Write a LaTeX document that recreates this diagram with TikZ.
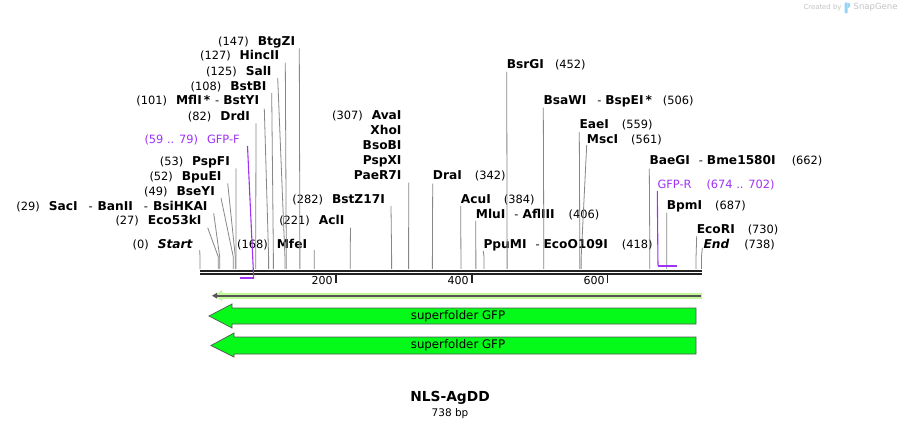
\documentclass[tikz,border=0pt]{standalone}
\usepackage{fontspec}
\setmainfont{DejaVu Sans}
\usetikzlibrary{arrows.meta}
\definecolor{primer}{RGB}{160,50,245}
\definecolor{cutline}{RGB}{135,135,135}
\definecolor{feat}{RGB}{5,250,25}
\definecolor{featline}{RGB}{85,85,85}
\definecolor{orfline}{RGB}{195,248,150}
\definecolor{bone}{RGB}{34,34,34}
\definecolor{logo}{RGB}{195,195,195}
\definecolor{logoblue}{RGB}{150,212,245}
\newcommand{\bp}[1]{200+0.6795*#1}
\newcommand{\enz}[1]{{\fontsize{12.2}{14}\selectfont\bfseries #1}}

\begin{document}
\begin{tikzpicture}[x=1pt,y=-1pt,
    lbl/.style={inner sep=0pt,text height=9pt,text depth=2.5pt,
                font=\fontsize{11.4}{13}\selectfont},
    lft/.style={lbl,anchor=east},
    rgt/.style={lbl,anchor=west},
    cut/.style={draw=cutline,line width=0.8pt},
    oligo/.style={draw=primer,line width=1.1pt},
    feature/.style={fill=feat,draw=featline,line width=0.7pt}]

  \useasboundingbox[fill=white] (0,0) rectangle (902,430);

  % sites on the backbone
  \foreach \b in {0,27,29,49,52,53,82,101,108,125,127,147,168,221,282,307,
                  342,384,406,418,452,506,559,561,662,687,730,738}
    \coordinate (s\b) at ({\bp{\b}},269);

  % labels left of their line
  \node[lft] (Start)   at (192.7,245)   {(0)\hspace{9pt}\enz{\itshape Start}};
  \node[lft] (Eco53kI) at (201.7,221.7) {(27)\hspace{9pt}\enz{Eco53kI}};
  \node[lft] (SacI)    at (207.7,207.3) {(29)\hspace{9pt}\enz{SacI}\hspace{11pt}-\hspace{5pt}\enz{BanII}\hspace{11pt}-\hspace{5pt}\enz{BsiHKAI}};
  \node[lft] (BseYI)   at (215,192)     {(49)\hspace{9pt}\enz{BseYI}};
  \node[lft] (BpuEI)   at (221.7,177.3) {(52)\hspace{9pt}\enz{BpuEI}};
  \node[lft] (PspFI)   at (230,162.3)   {(53)\hspace{9pt}\enz{PspFI}};
  \node[lft,text=primer] (GFPF) at (240,140) {(59 .. 79)\hspace{9pt}GFP-F};
  \node[lft] (DrdI)    at (250,117.3)   {(82)\hspace{9pt}\enz{DrdI}};
  \node[lft] (MflI)    at (259.3,101.7) {(101)\hspace{9pt}\enz{MflI\,*}\hspace{5pt}-\hspace{4pt}\enz{BstYI}};
  \node[lft] (BstBI)   at (266.7,87)    {(108)\hspace{9pt}\enz{BstBI}};
  \node[lft] (SalI)    at (271.7,72)    {(125)\hspace{9pt}\enz{SalI}};
  \node[lft] (HincII)  at (279.3,56.7)  {(127)\hspace{9pt}\enz{HincII}};
  \node[lft] (BtgZI)   at (295.3,42.3)  {(147)\hspace{9pt}\enz{BtgZI}};
  \node[lft] (MfeI)    at (307.3,245)   {(168)\hspace{9pt}\enz{MfeI}};
  \node[lft] (AclI)    at (344.5,221.7) {(221)\hspace{9pt}\enz{AclI}};
  \node[lft] (BstZ17I) at (385,200)     {(282)\hspace{9pt}\enz{BstZ17I}};
  \node[lft] (AvaI)    at (401.7,116.7) {(307)\hspace{9pt}\enz{AvaI}};
  \node[lft] (XhoI)    at (401.7,131.7) {\enz{XhoI}};
  \node[lft] (BsoBI)   at (401.7,146.7) {\enz{BsoBI}};
  \node[lft] (PspXI)   at (401.7,161.7) {\enz{PspXI}};
  \node[lft] (PaeR7I)  at (401.7,176.7) {\enz{PaeR7I}};

  % labels right of their line
  \node[rgt] (DraI)    at (432.7,176.7) {\enz{DraI}\hspace{13pt}(342)};
  \node[rgt] (AcuI)    at (460.7,200)   {\enz{AcuI}\hspace{13pt}(384)};
  \node[rgt] (MluI)    at (475.7,215)   {\enz{MluI}\hspace{9pt}-\hspace{4pt}\enz{AflIII}\hspace{14pt}(406)};
  \node[rgt] (PpuMI)   at (483.3,245)   {\enz{PpuMI}\hspace{9pt}-\hspace{4pt}\enz{EcoO109I}\hspace{14pt}(418)};
  \node[rgt] (BsrGI)   at (506.7,65)    {\enz{BsrGI}\hspace{11pt}(452)};
  \node[rgt] (BsaWI)   at (543.3,101.7) {\enz{BsaWI}\hspace{11pt}-\hspace{4pt}\enz{BspEI\,*}\hspace{11pt}(506)};
  \node[rgt] (EaeI)    at (579.3,125)   {\enz{EaeI}\hspace{13pt}(559)};
  \node[rgt] (MscI)    at (586.7,140)   {\enz{MscI}\hspace{13pt}(561)};
  \node[rgt] (BaeGI)   at (649.3,161.7) {\enz{BaeGI}\hspace{9pt}-\hspace{4pt}\enz{Bme1580I}\hspace{16pt}(662)};
  \node[rgt,text=primer] (GFPR) at (657.3,185) {GFP-R\hspace{15pt}(674 .. 702)};
  \node[rgt] (BpmI)    at (666.7,206.7) {\enz{BpmI}\hspace{13pt}(687)};
  \node[rgt] (EcoRI)   at (696.7,230)   {\enz{EcoRI}\hspace{13pt}(730)};
  \node[rgt] (End)     at (703.3,245)   {\enz{\itshape End}\hspace{15pt}(738)};

  % cut lines
  \draw[cut] (Start.east)   ++(7,5) -- ([yshift=12pt]s0)   -- (s0);
  \draw[cut] (Eco53kI.east) ++(6,6) -- ([yshift=12pt]s27)  -- (s27);
  \draw[cut] (SacI.east)    ++(6,6) -- ([yshift=12pt]s29)  -- (s29);
  \draw[cut] (BseYI.east)   ++(6,6) -- ([yshift=12pt]s49)  -- (s49);
  \draw[cut] (BpuEI.east)   ++(6,6) -- ([yshift=12pt]s52)  -- (s52);
  \draw[cut] (PspFI.east)   ++(6,6) -- ([yshift=12pt]s53)  -- (s53);
  \draw[cut] (DrdI.east)    ++(6,6) -- ([yshift=12pt]s82)  -- (s82);
  \draw[cut] (MflI.east)    ++(5,7) -- ([yshift=12pt]s101) -- (s101);
  \draw[cut] (BstBI.east)   ++(5,6) -- ([yshift=12pt]s108) -- (s108);
  \draw[cut] (SalI.east)    ++(6,6) -- ([yshift=12pt]s125) -- (s125);
  \draw[cut] (HincII.east)  ++(6,6) -- ([yshift=12pt]s127) -- (s127);
  \draw[cut] (BtgZI.east)   ++(4,6) -- ([yshift=12pt]s147) -- (s147);
  \draw[cut] (MfeI.east)    ++(7,5) -- ([yshift=12pt]s168) -- (s168);
  \draw[cut] (AclI.east)    ++(6,6) -- ([yshift=12pt]s221) -- (s221);
  \draw[cut] (BstZ17I.east) ++(6,6) -- ([yshift=12pt]s282) -- (s282);
  \draw[cut] (PaeR7I.east)  ++(7,6) -- ([yshift=12pt]s307) -- (s307);
  \draw[cut] (DraI.west)    ++(0,7) -- ([yshift=12pt]s342) -- (s342);
  \draw[cut] (AcuI.west)    ++(0,6) -- ([yshift=12pt]s384) -- (s384);
  \draw[cut] (MluI.west)    ++(0,6) -- ([yshift=12pt]s406) -- (s406);
  \draw[cut] (PpuMI.west)   ++(0,6) -- ([yshift=12pt]s418) -- (s418);
  \draw[cut] (BsrGI.west)   ++(0,7) -- ([yshift=12pt]s452) -- (s452);
  \draw[cut] (BsaWI.west)   ++(0,6) -- ([yshift=12pt]s506) -- (s506);
  \draw[cut] (EaeI.west)    ++(0,7) -- ([yshift=12pt]s559) -- (s559);
  \draw[cut] (MscI.west)    ++(0,5) -- ([yshift=12pt]s561) -- (s561);
  \draw[cut] (BaeGI.west)   ++(0,7) -- ([yshift=12pt]s662) -- (s662);
  \draw[cut] (BpmI.west)    ++(0,6) -- ([yshift=12pt]s687) -- (s687);
  \draw[cut] (EcoRI.west)   ++(0,6) -- ([yshift=12pt]s730) -- (s730);
  \draw[cut] (End.west)     ++(-1,3) -- ([yshift=12pt]s738) -- (s738);

  % backbone
  \coordinate (bbL) at (199.5,270.7);
  \coordinate (bbR) at (702,270.7);
  \draw[bone,line width=2.2pt] (bbL) -- (bbR);
  \draw[bone,line width=1.8pt] ([yshift=-3.6pt]bbL) -- ([yshift=-3.6pt]bbR);
  \foreach \t in {200,400,600} {
    \coordinate (k\t) at ({\bp{\t}},275);
    \draw[bone,line width=1.4pt] (k\t) -- ([yshift=-8pt]k\t);
    \node[lbl,anchor=east,font=\fontsize{11}{12}\selectfont] (t\t)
      at ([xshift=-3pt,yshift=-6.5pt]k\t) {\t};
  }

  % primers
  \coordinate (pF1) at ({\bp{59}},278);
  \coordinate (pF2) at ({\bp{79}},278);
  \draw[oligo] (GFPF.east) ++(7.5,6) -- (pF2);
  \draw[oligo,line width=2pt] (pF1) -- (pF2);
  \coordinate (pR1) at ({\bp{674}},265.7);
  \coordinate (pR2) at ({\bp{702}},265.7);
  \draw[oligo] (GFPR.west) ++(0,6) -- (pR1);
  \draw[oligo,line width=2.2pt] (pR1) -- (pR2);

  % open reading frame
  \coordinate (orfR) at (702,295.7);
  \coordinate (orfL) at (210,295.7);
  \draw[orfline,line width=6pt,-{Triangle[length=7pt,width=11pt]}]
    (orfR) -- ([xshift=5pt]orfL);
  \draw[featline,line width=1.8pt,-{Triangle[length=5pt,width=5.5pt]}]
    ([xshift=-1.5pt]orfR) -- ([xshift=2pt]orfL);

  % features
  \draw[feature] (696,308) -- (232,308) -- (232,304) -- (209,316)
    -- (232,328) -- (232,324) -- (696,324) -- cycle;
  \node[lbl,font=\fontsize{11.8}{13}\selectfont] (sfgfp1) at (458,316) {superfolder GFP};
  \draw[feature] (696,337) -- (234,337) -- (234,333) -- (211,345.5)
    -- (234,357) -- (234,354) -- (696,354) -- cycle;
  \node[lbl,font=\fontsize{11.8}{13}\selectfont] (sfgfp2) at (458,345.5) {superfolder GFP};

  % title
  \node[font=\bfseries\fontsize{13.8}{16}\selectfont,inner sep=0pt] (title) at (450,398) {NLS-AgDD};
  \node[font=\fontsize{10.5}{12}\selectfont,inner sep=0pt] (size) at (450,414) {738 bp};

  % logo
  \node[anchor=east,text=logo,inner sep=0pt,font=\fontsize{6.9}{8}\selectfont] (made) at (841.7,7.5) {Created by};
  \fill[logoblue,rounded corners=1pt] (844.5,2.5) rectangle (847.5,13.5);
  \fill[logoblue] (847.5,2.5) arc[start angle=90,end angle=-90,radius=2.8pt] -- cycle;
  \node[anchor=west,text=logo,inner sep=0pt,font=\fontsize{8.5}{10}\selectfont] (sg) at (853.5,7.5) {SnapGene};
\end{tikzpicture}
\end{document}
